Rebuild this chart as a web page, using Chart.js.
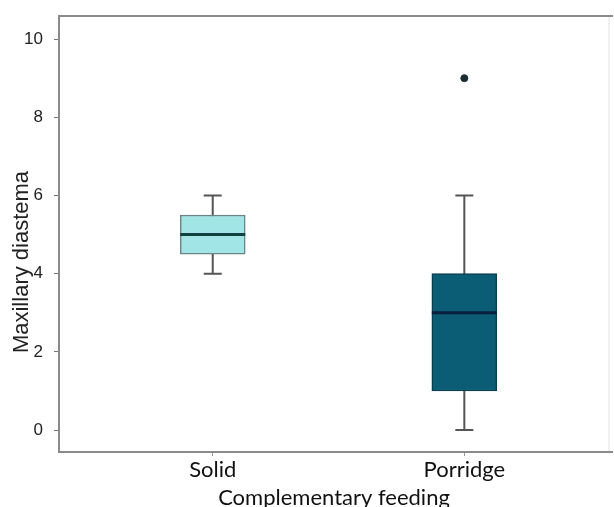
<!DOCTYPE html>
<html>
<head>
<meta charset="utf-8">
<script src="https://cdn.jsdelivr.net/npm/chart.js@4/dist/chart.umd.min.js"></script>
<style>
  body { margin: 0; background: #fff; }
  #wrap { width: 614px; height: 507px; }
</style>
</head>
<body>
<div id="wrap"><canvas id="myChart"></canvas></div>
<script>
let categories = ['Solid', 'Porridge'];
let whiskerLow = [4, 0];
let q1 = [4.5, 1];
let median = [5, 3];
let q3 = [5.5, 4];
let whiskerHigh = [6, 6];
let outliers = [{ x: 2, y: 9 }];
let yTicks = [0, 2, 4, 6, 8, 10];

let boxFill = ['#a2e5e6', '#0b5d76'];
let boxLine = ['#6d8384', '#0a3f50'];
let medianLine = ['#123f40', '#0a1f3c'];

let boxData = categories.map((c, i) => ({ x: i + 1, y: [q1[i], q3[i]] }));

// whiskers behind the boxes, medians on top of them
let boxParts = {
    id: 'boxParts',
    beforeDatasetsDraw(chart) {
        let ctx = chart.ctx, xs = chart.scales.x, ys = chart.scales.y;
        ctx.save();
        ctx.strokeStyle = '#555';
        ctx.lineWidth = 2;
        categories.forEach((c, i) => {
            let x = xs.getPixelForValue(i + 1);
            let lo = ys.getPixelForValue(whiskerLow[i]);
            let hi = ys.getPixelForValue(whiskerHigh[i]);
            ctx.beginPath();
            ctx.moveTo(x, lo); ctx.lineTo(x, hi);
            ctx.moveTo(x - 9, lo); ctx.lineTo(x + 9, lo);
            ctx.moveTo(x - 9, hi); ctx.lineTo(x + 9, hi);
            ctx.stroke();
        });
        ctx.restore();
    },
    afterDatasetsDraw(chart) {
        let ctx = chart.ctx, xs = chart.scales.x, ys = chart.scales.y;
        let bar = chart.getDatasetMeta(0).data;
        ctx.save();
        ctx.lineWidth = 3;
        categories.forEach((c, i) => {
            let x = xs.getPixelForValue(i + 1);
            let half = bar[i].width / 2;
            let y = ys.getPixelForValue(median[i]);
            ctx.strokeStyle = medianLine[i];
            ctx.beginPath();
            ctx.moveTo(x - half, y); ctx.lineTo(x + half, y);
            ctx.stroke();
        });
        // frame
        let a = chart.chartArea;
        ctx.strokeStyle = '#e2e2e2';
        ctx.lineWidth = 1;
        ctx.beginPath();
        ctx.moveTo(a.right, a.top); ctx.lineTo(a.right, a.bottom);
        ctx.stroke();
        ctx.strokeStyle = '#8a8a8a';
        ctx.lineWidth = 2;
        ctx.beginPath();
        ctx.moveTo(a.right + 4, a.top); ctx.lineTo(a.left, a.top);
        ctx.lineTo(a.left, a.bottom); ctx.lineTo(a.right + 4, a.bottom);
        ctx.stroke();
        // y title
        ctx.fillStyle = '#222';
        ctx.font = '22px "Liberation Sans", Arial, sans-serif';
        ctx.textAlign = 'center';
        ctx.textBaseline = 'middle';
        ctx.translate(22, (a.top + a.bottom) / 2 + 28);
        ctx.rotate(-Math.PI / 2);
        ctx.fillText('Maxillary diastema', 0, 0);
        ctx.restore();
    }
};

let myChart = document.getElementById('myChart').getContext('2d');

let chart = new Chart(myChart, {
    type: 'bar',
    data: {
        datasets: [{
            data: boxData,
            backgroundColor: boxFill,
            borderColor: boxLine,
            borderWidth: 1.5,
            borderSkipped: false,
            barThickness: 65
        }, {
            type: 'scatter',
            data: outliers,
            pointRadius: 3.5,
            backgroundColor: '#1b2f33',
            borderColor: '#1b2f33'
        }]
    },
    options: {
        responsive: true,
        maintainAspectRatio: false,
        animation: false,
        layout: { padding: { top: 16, right: 4, left: 0, bottom: 0 } },
        plugins: { legend: { display: false }, tooltip: { enabled: false } },
        scales: {
            x: {
                type: 'linear',
                offset: false,
                min: 0.389,
                max: 2.575,
                afterBuildTicks: s => { s.ticks = categories.map((c, i) => ({ value: i + 1 })); },
                afterFit: s => { s.height = 55; s.paddingLeft = 0; s.paddingRight = 0; },
                grid: { offset: false, drawOnChartArea: false, drawTicks: true, tickLength: 4, color: '#999' },
                border: { display: false },
                ticks: {
                    padding: 1,
                    color: '#111',
                    font: { family: 'Lato', size: 22 },
                    callback: v => categories[v - 1]
                },
                title: {
                    display: true,
                    text: 'Complementary feeding',
                    color: '#111',
                    font: { family: 'Lato', size: 22 },
                    padding: { top: 0, bottom: -4 }
                }
            },
            y: {
                min: -0.56,
                max: 10.59,
                afterBuildTicks: s => { s.ticks = yTicks.map(v => ({ value: v })); },
                afterFit: s => { s.width = 59; s.paddingTop = 0; s.paddingBottom = 0; },
                grid: { drawOnChartArea: false, drawTicks: true, tickLength: 5, color: '#777' },
                border: { display: false },
                ticks: {
                    padding: 11,
                    color: '#222',
                    font: { family: 'Liberation Sans', size: 17 }
                }
            }
        }
    },
    plugins: [boxParts]
});
</script>
</body>
</html>
